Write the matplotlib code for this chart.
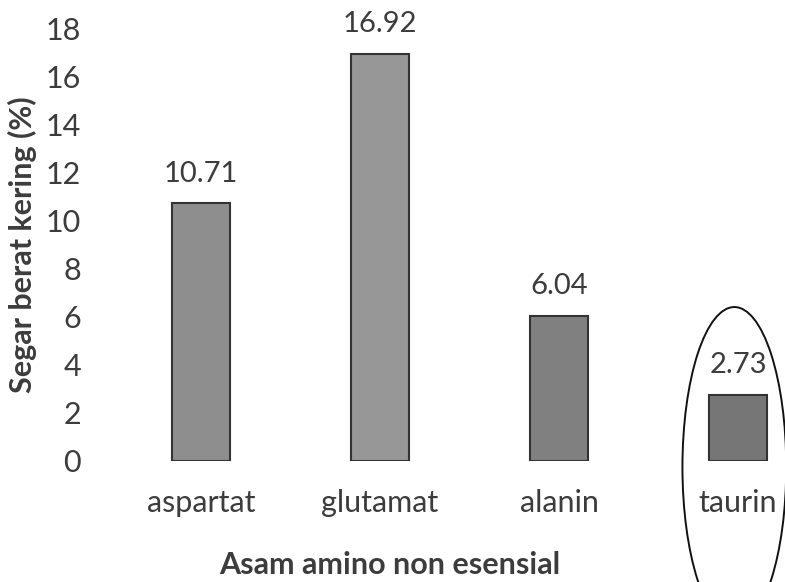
import matplotlib

matplotlib.use("Agg")
import matplotlib.pyplot as plt
from matplotlib.patches import Ellipse

categories = ["aspartat", "glutamat", "alanin", "taurin"]
values = [10.71, 16.92, 6.04, 2.73]
value_labels = ["10.71", "16.92", "6.04", "2.73"]
y_ticks = [0, 2, 4, 6, 8, 10, 12, 14, 16, 18]

plt.rcParams["font.family"] = ["Lato", "DejaVu Sans"]
text_grey = "#3c3c3c"

fig = plt.figure(figsize=(7.85, 5.82), dpi=100)
ax = fig.add_axes([111.5 / 785, 121 / 582, (785 - 111.5) / 785, 433 / 582])

fills = ["#8e8e8e", "#979797", "#808080", "#767676"]
x = range(len(categories))
ax.bar(x, values, width=0.32, color=fills, edgecolor="#333333", linewidth=1.5)

for xi, v, lab in zip(x, values, value_labels):
    ax.text(xi, v + 0.7, lab, ha="center", va="bottom", fontsize=21, color=text_grey)

ax.set_xlim(-0.5, 3.263)
ax.set_ylim(0, 18)
ax.set_yticks(y_ticks)
ax.set_xticks(list(x))
ax.set_xticklabels(categories)
ax.tick_params(axis="y", length=0, pad=22, labelsize=22, labelcolor=text_grey)
ax.tick_params(axis="x", length=0, pad=20, labelsize=22, labelcolor=text_grey)
for spine in ax.spines.values():
    spine.set_visible(False)

ax.set_ylabel("Segar berat kering (%)", fontsize=22, fontweight="bold",
              color=text_grey, labelpad=6)
ax.set_xlabel("Asam amino non esensial", fontsize=22, fontweight="bold",
              color=text_grey)
# the axes run off the right edge, so centre the x title under the visible part
ax.xaxis.set_label_coords(0.4135, -0.24)
ax.xaxis.label.set_va("center")

# hand-drawn style ring around the taurin column
ring = Ellipse((2.98, -0.25), width=0.58, height=13.3, fill=False,
               edgecolor="#111111", linewidth=1.4, clip_on=False)
ax.add_patch(ring)

fig.savefig("out.png", dpi=100)
